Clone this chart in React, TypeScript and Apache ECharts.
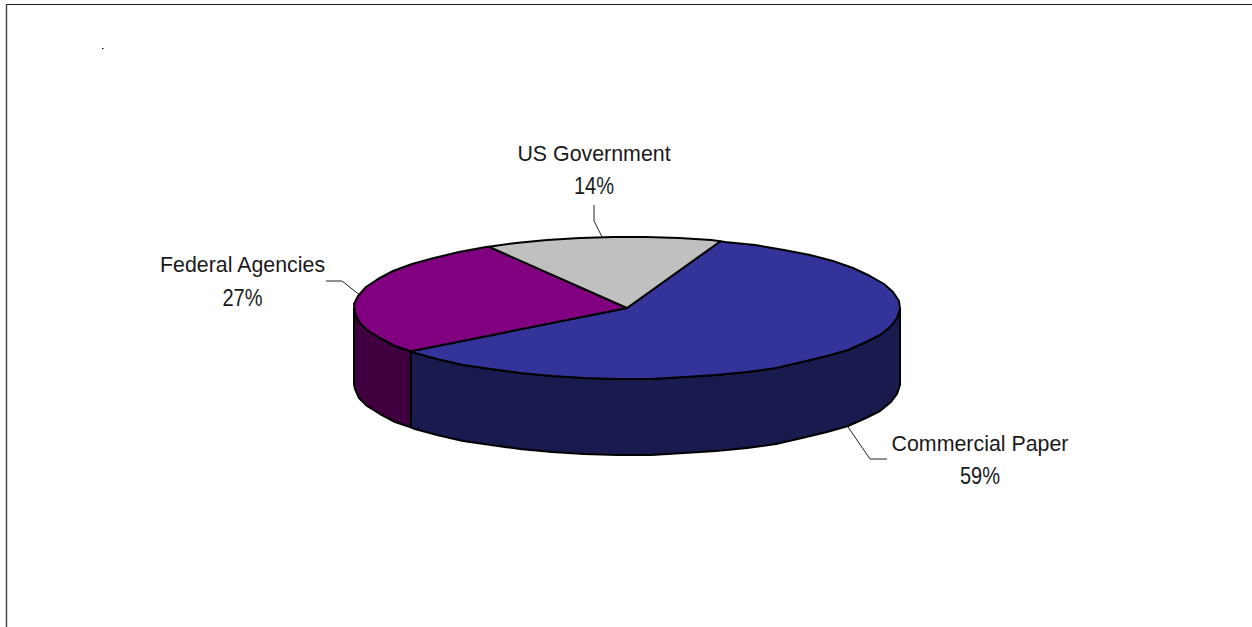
import React, { useEffect, useRef } from "react";
import * as echarts from "echarts";

const categories = ["Commercial Paper", "Federal Agencies", "US Government"];
const shares = [59, 27, 14];
const topColors = ["#333399", "#800080", "#c0c0c0"];
const wallColors = ["#191a4d", "#400040", "#606060"];

const CX = 627;
const CY = 308;
const RX = 273;
const RY = 71;
const DEPTH = 76;
const START_DEG = 20;
const FACET_DEG = 7;

// Position on the rim, with angles measured clockwise from twelve o'clock.
const rim = (deg: number, drop = 0): number[] => {
  const r = (deg * Math.PI) / 180;
  return [CX + RX * Math.sin(r), CY - RY * Math.cos(r) + drop];
};

// The rim is faceted: vertices sit on a fixed angular grid, snapped to whole pixels.
const arcPoints = (from: number, to: number, drop = 0): number[][] => {
  const pts = [rim(from, drop)];
  let a = (Math.floor(from / FACET_DEG) + 1) * FACET_DEG;
  for (; a < to; a += FACET_DEG) {
    const [x, y] = rim(a, drop);
    pts.push([Math.round(x), Math.round(y)]);
  }
  pts.push(rim(to, drop));
  return pts;
};

const total = shares.reduce((s, v) => s + v, 0);
const spans = shares.map((_, i) => {
  const before = shares.slice(0, i).reduce((s, v) => s + v, 0);
  return [
    START_DEG + (before / total) * 360,
    START_DEG + ((before + shares[i]) / total) * 360,
  ];
});

// Elbow and text placement for each callout.
const callouts = [
  { elbow: [870, 459], end: [887, 459], textX: 980, textY: 443, drop: DEPTH },
  { elbow: [342, 281], end: [326, 281], textX: 242.5, textY: 264.5, drop: 0 },
  { elbow: [594, 221], end: [594, 205], textX: 594, textY: 153, drop: 0 },
];

const FONT = '"Liberation Sans", Arial, sans-serif';

// Tall, slightly condensed lettering for the callouts.
const labelText = (text: string, x: number, y: number, scaleX: number) => ({
  type: "text",
  x,
  y,
  scaleX,
  style: {
    text,
    x: 0,
    y: 0,
    fill: "#1a1a1a",
    font: `23px ${FONT}`,
    textAlign: "center",
    textVerticalAlign: "middle",
  },
});

const renderSlice = (params: any) => {
  const i = params.dataIndex;
  const [from, to] = spans[i];
  const children: any[] = [];
  const edge = { stroke: "#000", lineWidth: 2, lineJoin: "round" };

  // The wall exists only where the rim faces the viewer (90 to 270 degrees).
  const wallFrom = Math.max(from, 90);
  const wallTo = Math.min(to, 270);
  if (wallTo > wallFrom) {
    const upper = arcPoints(wallFrom, wallTo);
    const lower = arcPoints(wallFrom, wallTo, DEPTH).reverse();
    children.push({
      type: "polygon",
      shape: { points: [...upper, ...lower] },
      style: { fill: wallColors[i], ...edge },
    });
  }

  children.push({
    type: "polygon",
    shape: { points: [[CX, CY], ...arcPoints(from, to)] },
    style: { fill: topColors[i], ...edge },
  });

  const c = callouts[i];
  const anchor = rim((from + to) / 2, c.drop);
  children.push({
    type: "polyline",
    shape: { points: [anchor, c.elbow, c.end] },
    style: { stroke: "#222", lineWidth: 1, fill: null },
  });
  children.push(labelText(categories[i], c.textX, c.textY, 0.93));
  children.push(labelText(`${shares[i]}%`, c.textX, c.textY + 33, 0.87));
  return { type: "group", children };
};

export default function App() {
  const ref = useRef<HTMLDivElement>(null);
  useEffect(() => {
    const chart = echarts.init(ref.current!, null, { renderer: "svg" });
    chart.setOption({
      animation: false,
      backgroundColor: "#ffffff",
      graphic: [
        { type: "line", shape: { x1: 6, y1: 4.5, x2: 1252, y2: 4.5 }, style: { stroke: "#222", lineWidth: 1 } },
        { type: "line", shape: { x1: 6.5, y1: 4, x2: 6.5, y2: 627 }, style: { stroke: "#444", lineWidth: 1.4 } },
        { type: "rect", shape: { x: 102, y: 48, width: 1.5, height: 1 }, style: { fill: "#000" } },
      ],
      series: [
        {
          type: "custom",
          coordinateSystem: "none",
          silent: true,
          renderItem: renderSlice,
          data: categories.map((name, i) => ({ name, value: shares[i] })),
        },
      ],
    });
    return () => chart.dispose();
  }, []);
  return <div ref={ref} style={{ position: "fixed", left: 0, top: 0, width: 1252, height: 627 }} />;
}
